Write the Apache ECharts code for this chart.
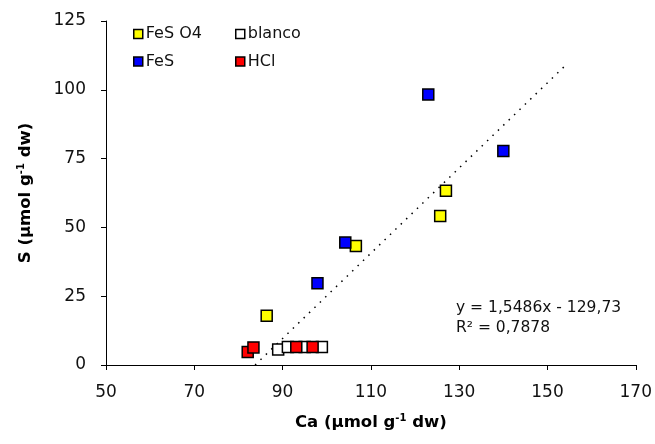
<!DOCTYPE html>
<html>
<head>
<meta charset="utf-8">
<script src="https://cdn.jsdelivr.net/npm/echarts@6/dist/echarts.min.js"></script>
<style>
html, body { margin: 0; padding: 0; background: #fff; }
#chart { width: 655px; height: 444px; }
</style>
</head>
<body>
<div id="chart"></div>
<script>
// datos (Ca, S)
var fesO4 = [[86.4, 17.9], [106.6, 43.2], [125.7, 54.1], [127.0, 63.3]]
var fes = [[97.9, 29.7], [104.2, 44.5], [123.0, 98.3], [140.0, 77.8]]
var blanco = [[89.0, 5.6], [91.2, 6.5], [95.0, 6.5], [98.9, 6.5]]
var hcl = [[82.1, 4.7], [83.4, 6.4], [93.1, 6.5], [96.8, 6.5]]

// linea de tendencia
var slope = 1.5486
var intercept = -129.73
var trendX = [83.77, 154.6]
var trendText = ['y = 1,5486x - 129,73', 'R² = 0,7878']

var xTicks = { min: 50, max: 170, interval: 20 }
var yTicks = { min: 0, max: 125, interval: 25 }

var trendData = trendX.map(function(x) {
  return [x, slope * x + intercept]
})

var chart = echarts.init(document.getElementById('chart'))

var FONT = 'DejaVu Sans'

function markerSeries(name, color, data) {
  return {
    name: name,
    type: 'scatter',
    symbol: 'rect',
    symbolSize: 11,
    itemStyle: { color: color, borderColor: '#000', borderWidth: 1.5, opacity: 1 },
    data: data
  }
}

var legendCommon = {
  orient: 'vertical',
  top: 21,
  itemWidth: 9,
  itemHeight: 9,
  itemGap: 11.5,
  icon: 'rect',
  itemStyle: { borderColor: '#000', borderWidth: 1.5 },
  textStyle: { fontFamily: FONT, fontSize: 16, color: '#111', padding: [0, 0, 0, -2] }
}

var titleStyle = {
  fontFamily: FONT, fontSize: 16.5, fontWeight: 'bold', color: '#000',
  rich: { sup: { fontFamily: FONT, fontSize: 10, fontWeight: 'bold', color: '#000', padding: [0, 0, 10, 0] } }
}

var option = {
  animation: false,
  backgroundColor: '#fff',
  grid: { left: 106, right: 17, top: 21, bottom: 79 },
  legend: [
    Object.assign({ left: 128, data: ['FeS O4', 'FeS'] }, legendCommon),
    Object.assign({ left: 230, data: ['blanco', 'HCl'] }, legendCommon)
  ],
  xAxis: {
    type: 'value',
    min: xTicks.min,
    max: xTicks.max,
    interval: xTicks.interval,
    name: 'Ca (µmol g{sup|-1} dw)',
    nameLocation: 'middle',
    nameGap: 48,
    nameTextStyle: titleStyle,
    axisLine: { onZero: false, lineStyle: { color: '#000', width: 1 } },
    axisTick: { length: 5, lineStyle: { color: '#000' } },
    axisLabel: { fontFamily: FONT, fontSize: 17, color: '#111', margin: 19 },
    splitLine: { show: false }
  },
  yAxis: {
    type: 'value',
    min: yTicks.min,
    max: yTicks.max,
    interval: yTicks.interval,
    name: 'S (µmol g{sup|-1} dw)',
    nameLocation: 'middle',
    nameRotate: 90,
    nameGap: 70,
    nameTextStyle: titleStyle,
    axisLine: { onZero: false, lineStyle: { color: '#000', width: 1 } },
    axisTick: { length: 5, lineStyle: { color: '#000' } },
    axisLabel: { fontFamily: FONT, fontSize: 17, color: '#111', margin: 20 },
    splitLine: { show: false }
  },
  graphic: [
    {
      type: 'text',
      left: 456,
      top: 300,
      style: { text: trendText[0], font: '15.5px "DejaVu Sans"', fill: '#111' }
    },
    {
      type: 'text',
      left: 456,
      top: 320,
      style: { text: trendText[1], font: '15.5px "DejaVu Sans"', fill: '#111' }
    }
  ],
  series: [
    {
      name: 'trend',
      type: 'line',
      symbol: 'none',
      silent: true,
      lineStyle: { color: '#000', width: 1.5, type: [1.5, 6] },
      data: trendData,
      z: 1
    },
    markerSeries('FeS O4', '#ffff00', fesO4),
    markerSeries('FeS', '#0000ff', fes),
    markerSeries('blanco', '#ffffff', blanco),
    markerSeries('HCl', '#ff0000', hcl)
  ]
}

chart.setOption(option)
</script>
</body>
</html>
